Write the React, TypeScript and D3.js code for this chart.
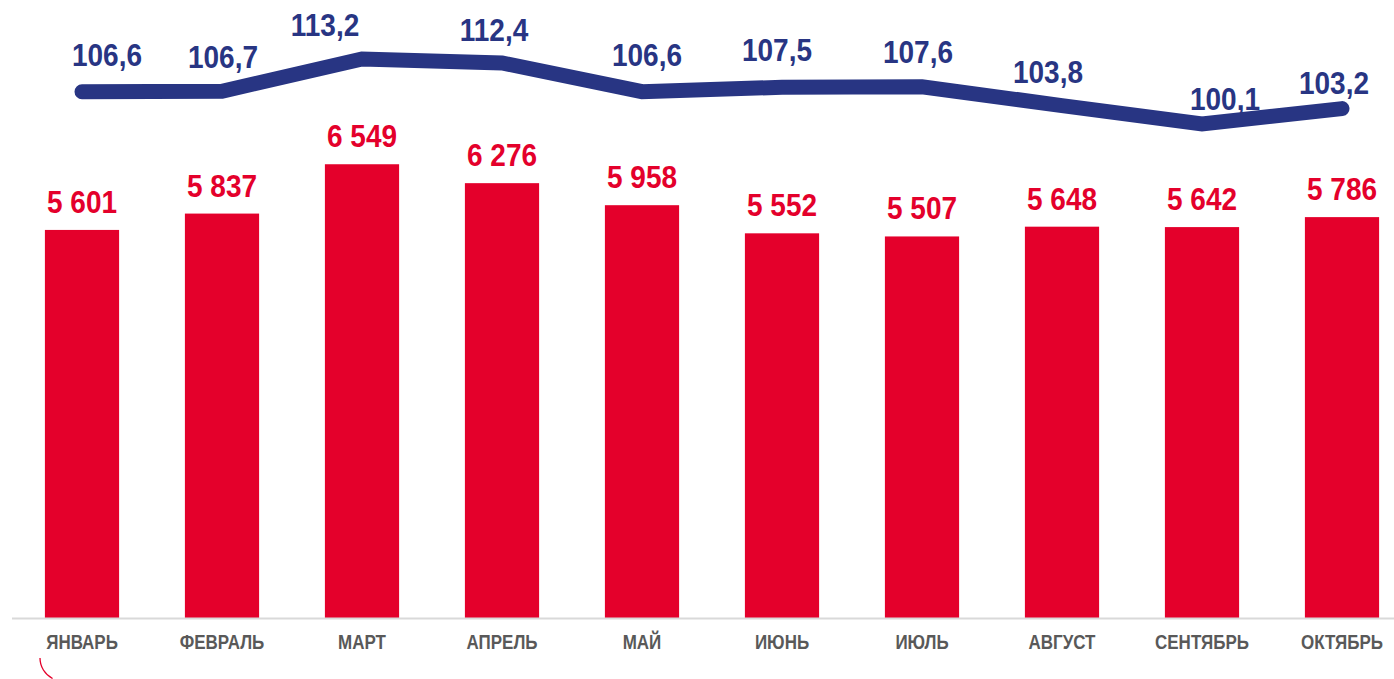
import React from "react";
import * as d3 from "d3";

const months = ["ЯНВАРЬ", "ФЕВРАЛЬ", "МАРТ", "АПРЕЛЬ", "МАЙ", "ИЮНЬ", "ИЮЛЬ", "АВГУСТ", "СЕНТЯБРЬ", "ОКТЯБРЬ"];
const volumes = [5601, 5837, 6549, 6276, 5958, 5552, 5507, 5648, 5642, 5786];
const indices = [106.6, 106.7, 113.2, 112.4, 106.6, 107.5, 107.6, 103.8, 100.1, 103.2];

// hand placement of the line labels, as in the source chart
const lineLabelDx = [25, 1, -37, -8, 5, -5, -4, -14, 23, -8];
const lineLabelDy = [-26, -23, -23, -22, -26, -26, -24, -23, -14, -15];

const RED = "#e4002b";
const BLUE = "#283583";
const GREY = "#595959";
const FONT = "'Liberation Sans', Arial, sans-serif";

// the source text is a bit narrow and tall, so stretch it vertically
const tall = (x: number, y: number, s: number) => `translate(${x},${y}) scale(1,${s})`;

export default function App() {
  const width = 1394;
  const height = 679;
  const baseline = 618;

  // bands run a little past the right edge, like the original
  const x = d3.scaleBand<string>()
    .domain(months)
    .range([12, 1412])
    .paddingInner(0.47)
    .paddingOuter(0.235);

  const yBar = d3.scaleLinear().domain([0, 7000]).range([baseline, 133]);
  const yLine = d3.scaleLinear().domain([100, 115]).range([124.5, 50]);

  const cx = (m: string) => (x(m) ?? 0) + x.bandwidth() / 2;

  const line = d3.line<number>()
    .x((d, i) => cx(months[i]))
    .y(d => yLine(d));

  const fmt = (v: number) => d3.format(",")(v).replace(",", " ");
  const fmtIdx = (v: number) => d3.format(".1f")(v).replace(".", ",");

  // small decorative arc in the bottom-left corner
  const arc = d3.arc()({ innerRadius: 23, outerRadius: 23, startAngle: -Math.PI / 2, endAngle: -Math.PI / 2 - 1.1 });

  return (
    <svg width={width} height={height} style={{ position: "absolute", left: 0, top: 0, background: "#fff" }}>
      {/* bars */}
      <g fill={RED}>
        {volumes.map((v, i) => (
          <rect key={i} x={x(months[i])} y={yBar(v)} width={x.bandwidth()} height={baseline - yBar(v)} />
        ))}
      </g>

      {/* bar labels */}
      <g fill={RED} fontFamily={FONT} fontWeight="bold" fontSize={28} textAnchor="middle">
        {volumes.map((v, i) => (
          <text key={i} transform={tall(cx(months[i]), yBar(v) - 17, 1.1)}>{fmt(v)}</text>
        ))}
      </g>

      {/* x axis */}
      <line x1={12} x2={width} y1={baseline + 0.5} y2={baseline + 0.5} stroke="#d9d9d9" strokeWidth={2} />
      <g fill={GREY} fontFamily={FONT} fontWeight="bold" fontSize={17} textAnchor="middle">
        {months.map(m => (
          <text key={m} transform={tall(cx(m), 649, 1.15)}>{m}</text>
        ))}
      </g>

      {/* index line */}
      <path d={line(indices) ?? ""} fill="none" stroke={BLUE} strokeWidth={15} strokeLinecap="round" strokeLinejoin="miter" />
      <g fill={BLUE} fontFamily={FONT} fontWeight="bold" fontSize={28} textAnchor="middle">
        {indices.map((v, i) => (
          <text key={i} transform={tall(cx(months[i]) + lineLabelDx[i], yLine(v) + lineLabelDy[i], 1.1)}>{fmtIdx(v)}</text>
        ))}
      </g>

      <path d={arc ?? ""} transform="translate(63,658)" fill="none" stroke={RED} strokeWidth={1.3} />
    </svg>
  );
}
